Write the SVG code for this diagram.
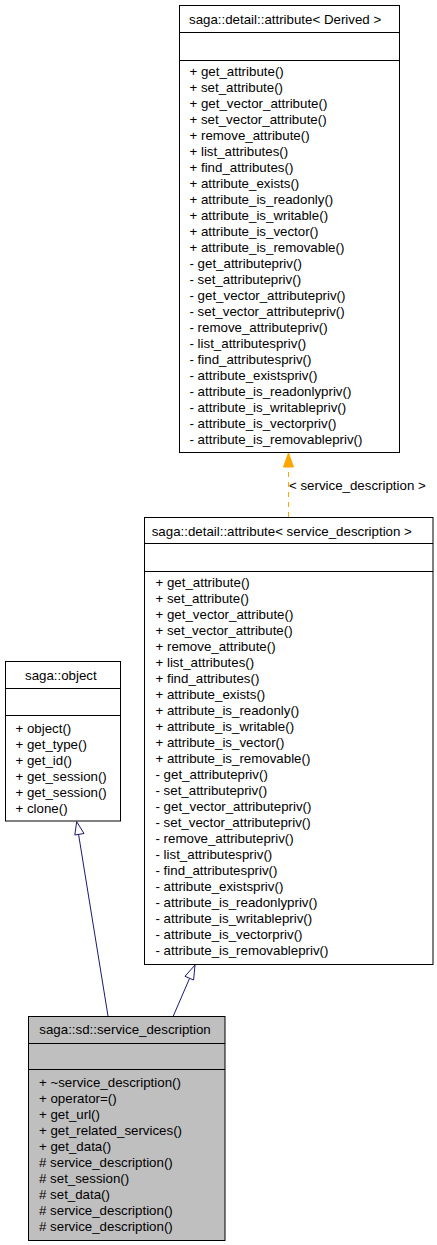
<svg xmlns="http://www.w3.org/2000/svg" width="437" height="1245" viewBox="0 0 437 1245">
<style>
text{font-family:"Liberation Sans",Arial,sans-serif;font-size:13.3px;fill:#000}
.box{fill:#fff;stroke:#000;stroke-width:1}
.cur{fill:#bfbfbf;stroke:#000;stroke-width:1}
.sep{stroke:#000;stroke-width:1}
.inh{stroke:#191970;stroke-width:1;fill:none}
.inhh{stroke:#191970;stroke-width:1;fill:#fff}
.tpl{stroke:#ffa500;stroke-width:1;fill:none;stroke-dasharray:5,5}
</style>
<rect width="437" height="1245" fill="#fff"/>
<g id="connectors">
<line class="inh" x1="108" y1="1016" x2="78.5" y2="834"/>
<polygon class="inhh" points="76.7,821.7 84,833.5 74.8,835"/>
<line class="inh" x1="173.3" y1="1016" x2="189.5" y2="978.5"/>
<polygon class="inhh" points="195,965 193.6,980 185,976.3"/>
<line class="tpl" x1="288.5" y1="517" x2="288.5" y2="466"/>
<polygon points="288.5,453 293.5,467 283.5,467" fill="#ffa500" stroke="#ffa500" stroke-width="1"/>
<text x="289" y="489.5">&lt; service_description &gt;</text>
</g>
<g id="attr_derived">
<rect class="box" x="179.5" y="5.5" width="220" height="447"/>
<line class="sep" x1="179.5" y1="32.5" x2="399.5" y2="32.5"/>
<line class="sep" x1="179.5" y1="60.5" x2="399.5" y2="60.5"/>
<text x="189" y="24">saga::detail::attribute&lt; Derived &gt;</text>
<text x="189.5" y="76">+ get_attribute()</text>
<text x="189.5" y="92">+ set_attribute()</text>
<text x="189.5" y="108">+ get_vector_attribute()</text>
<text x="189.5" y="124">+ set_vector_attribute()</text>
<text x="189.5" y="140">+ remove_attribute()</text>
<text x="189.5" y="156">+ list_attributes()</text>
<text x="189.5" y="172">+ find_attributes()</text>
<text x="189.5" y="188">+ attribute_exists()</text>
<text x="189.5" y="204">+ attribute_is_readonly()</text>
<text x="189.5" y="220">+ attribute_is_writable()</text>
<text x="189.5" y="236">+ attribute_is_vector()</text>
<text x="189.5" y="252">+ attribute_is_removable()</text>
<text x="189.5" y="268">- get_attributepriv()</text>
<text x="189.5" y="284">- set_attributepriv()</text>
<text x="189.5" y="300">- get_vector_attributepriv()</text>
<text x="189.5" y="316">- set_vector_attributepriv()</text>
<text x="189.5" y="332">- remove_attributepriv()</text>
<text x="189.5" y="348">- list_attributespriv()</text>
<text x="189.5" y="364">- find_attributespriv()</text>
<text x="189.5" y="380">- attribute_existspriv()</text>
<text x="189.5" y="396">- attribute_is_readonlypriv()</text>
<text x="189.5" y="412">- attribute_is_writablepriv()</text>
<text x="189.5" y="428">- attribute_is_vectorpriv()</text>
<text x="189.5" y="444">- attribute_is_removablepriv()</text>
</g>
<g id="attr_service_description">
<rect class="box" x="144.5" y="517.5" width="288.5" height="447"/>
<line class="sep" x1="144.5" y1="543.5" x2="433" y2="543.5"/>
<line class="sep" x1="144.5" y1="571.5" x2="433" y2="571.5"/>
<text x="151.7" y="535.5">saga::detail::attribute&lt; service_description &gt;</text>
<text x="155.5" y="587">+ get_attribute()</text>
<text x="155.5" y="603">+ set_attribute()</text>
<text x="155.5" y="619">+ get_vector_attribute()</text>
<text x="155.5" y="635">+ set_vector_attribute()</text>
<text x="155.5" y="651">+ remove_attribute()</text>
<text x="155.5" y="667">+ list_attributes()</text>
<text x="155.5" y="683">+ find_attributes()</text>
<text x="155.5" y="699">+ attribute_exists()</text>
<text x="155.5" y="715">+ attribute_is_readonly()</text>
<text x="155.5" y="731">+ attribute_is_writable()</text>
<text x="155.5" y="747">+ attribute_is_vector()</text>
<text x="155.5" y="763">+ attribute_is_removable()</text>
<text x="155.5" y="779">- get_attributepriv()</text>
<text x="155.5" y="795">- set_attributepriv()</text>
<text x="155.5" y="811">- get_vector_attributepriv()</text>
<text x="155.5" y="827">- set_vector_attributepriv()</text>
<text x="155.5" y="843">- remove_attributepriv()</text>
<text x="155.5" y="859">- list_attributespriv()</text>
<text x="155.5" y="875">- find_attributespriv()</text>
<text x="155.5" y="891">- attribute_existspriv()</text>
<text x="155.5" y="907">- attribute_is_readonlypriv()</text>
<text x="155.5" y="923">- attribute_is_writablepriv()</text>
<text x="155.5" y="939">- attribute_is_vectorpriv()</text>
<text x="155.5" y="955">- attribute_is_removablepriv()</text>
</g>
<g id="saga_object">
<rect class="box" x="5.5" y="661.5" width="115" height="159.5"/>
<line class="sep" x1="5.5" y1="688.5" x2="120.5" y2="688.5"/>
<line class="sep" x1="5.5" y1="715.5" x2="120.5" y2="715.5"/>
<text x="25" y="680">saga::object</text>
<text x="15.5" y="733">+ object()</text>
<text x="15.5" y="749">+ get_type()</text>
<text x="15.5" y="765">+ get_id()</text>
<text x="15.5" y="781">+ get_session()</text>
<text x="15.5" y="797">+ get_session()</text>
<text x="15.5" y="813">+ clone()</text>
</g>
<g id="service_description">
<rect class="cur" x="28.5" y="1016.5" width="196.5" height="224"/>
<line class="sep" x1="28.5" y1="1043.5" x2="225" y2="1043.5"/>
<line class="sep" x1="28.5" y1="1069.5" x2="225" y2="1069.5"/>
<text x="39.3" y="1034">saga::sd::service_description</text>
<text x="39" y="1087">+ ~service_description()</text>
<text x="39" y="1103">+ operator=()</text>
<text x="39" y="1119">+ get_url()</text>
<text x="39" y="1135">+ get_related_services()</text>
<text x="39" y="1151">+ get_data()</text>
<text x="39" y="1167"># service_description()</text>
<text x="39" y="1183"># set_session()</text>
<text x="39" y="1199"># set_data()</text>
<text x="39" y="1215"># service_description()</text>
<text x="39" y="1231"># service_description()</text>
</g>
</svg>
